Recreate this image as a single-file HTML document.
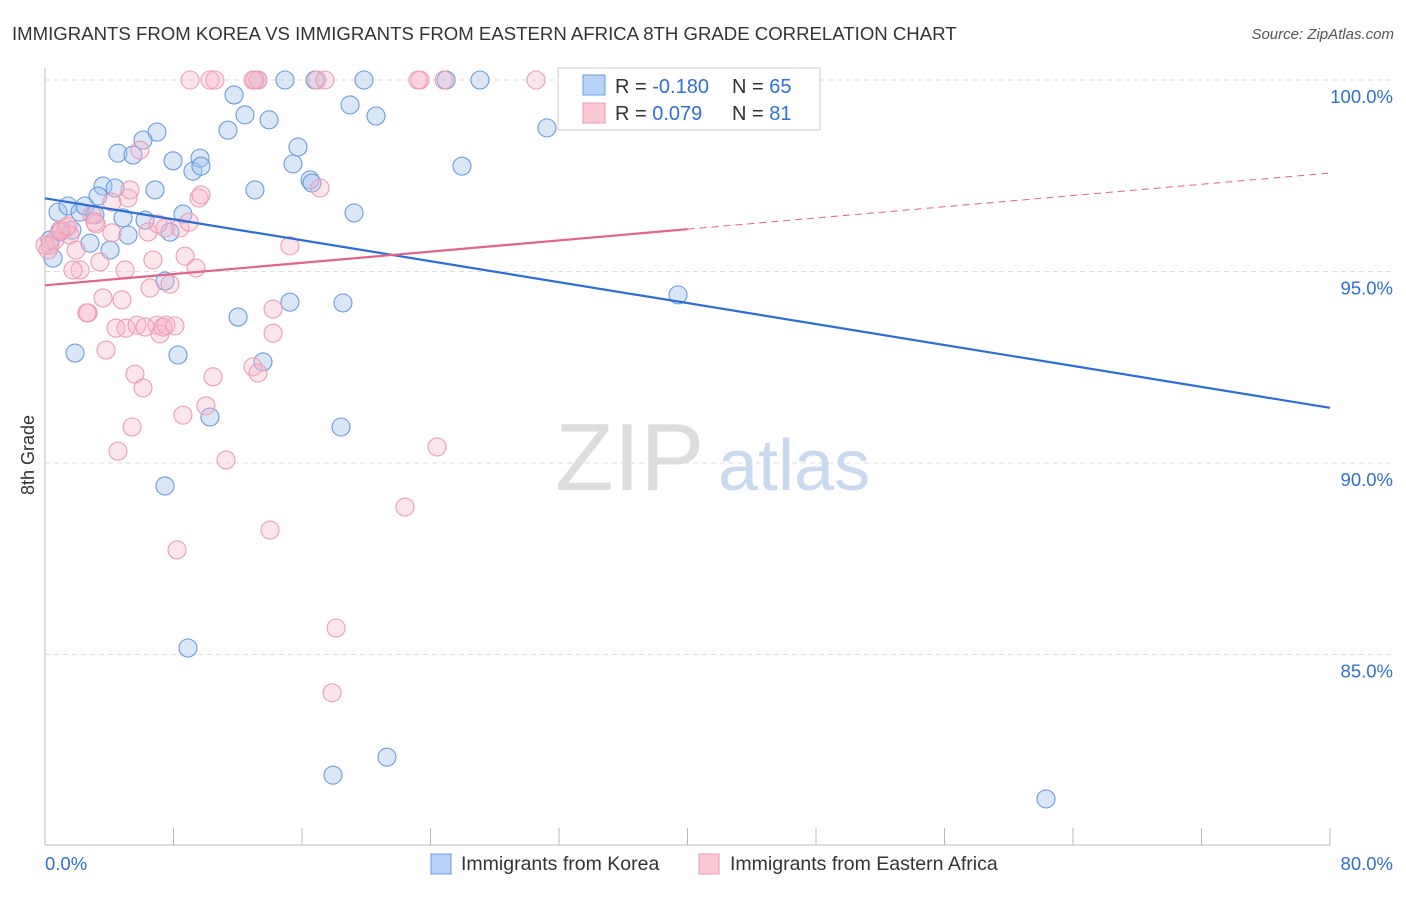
<!DOCTYPE html>
<html><head><meta charset="utf-8"><style>
body{margin:0;background:#fff;font-family:"Liberation Sans",sans-serif}
svg text{font-family:"Liberation Sans",sans-serif}
</style></head><body>
<svg id="chart" width="1406" height="892">
<text x="12" y="40" font-size="18.6" fill="#333">IMMIGRANTS FROM KOREA VS IMMIGRANTS FROM EASTERN AFRICA 8TH GRADE CORRELATION CHART</text>
<text x="1394" y="39" font-size="15" fill="#555" font-style="italic" text-anchor="end">Source: ZipAtlas.com</text>
<text x="34" y="455" font-size="18" fill="#333" transform="rotate(-90 34 455)" text-anchor="middle">8th Grade</text>
<g id="grid"></g>
<text x="555" y="490" font-size="96" fill="#ddd" font-family="Liberation Serif">ZIP</text>
<text x="718" y="490" font-size="72" fill="#c9d9f0">atlas</text>
<g id="pts"></g>
<g id="lines"></g>
<g>
<rect x="558" y="68" width="262" height="62" fill="#fff" stroke="#ccc"/>
<rect x="583" y="75" width="22" height="20" fill="#b8d2f5" stroke="#6a9de0"/>
<rect x="583" y="103" width="22" height="20" fill="#fbc8d6" stroke="#ec9ab2"/>
<text x="615" y="93" font-size="20" fill="#333">R = <tspan fill="#2f6fd8">-0.180</tspan></text>
<text x="732" y="93" font-size="20" fill="#333">N = <tspan fill="#2f6fd8">65</tspan></text>
<text x="615" y="120" font-size="20" fill="#333">R = <tspan fill="#2f6fd8"> 0.079</tspan></text>
<text x="732" y="120" font-size="20" fill="#333">N = <tspan fill="#2f6fd8"> 81</tspan></text>
</g>
<g>
<rect x="431" y="854" width="20" height="20" fill="#b8d2f5" stroke="#6a9de0"/>
<text x="461" y="870" font-size="19.5" fill="#333">Immigrants from Korea</text>
<rect x="699" y="854" width="20" height="20" fill="#fbc8d6" stroke="#ec9ab2"/>
<text x="730" y="870" font-size="19.5" fill="#333">Immigrants from Eastern Africa</text>
</g>
</svg>
<script>
const yTicks=[100,95,90,85];
const yTickLabels=["100.0%","95.0%","90.0%","85.0%"];
const xTicks=[0,8,16,24,32,40,48,56,64,72,80];
const xEndLabels=["0.0%","80.0%"];
const koreaX=[.31,.81,1.43,2.18,2.49,3.11,2.80,1.87,3.61,3.30,4.36,4.05,4.86,4.54,5.48,5.17,6.23,6.85,6.97,6.10,7.47,7.78,7.97,8.28,8.59,9.21,9.65,9.71,7.47,8.90,10.27,11.39,11.77,12.02,12.45,13.07,13.26,13.95,14.94,13.57,15.25,15.44,15.75,16.50,16.62,16.81,18.55,18.43,19.24,18.99,19.86,20.61,17.93,21.29,24.97,27.08,25.96,31.25,34.06,39.35,39.41,62.32,.93,1.68,.50];
const koreaY=[95.82,96.55,96.71,96.55,96.71,96.48,95.74,92.87,97.23,96.97,97.18,95.56,96.40,98.09,98.04,95.95,96.34,97.13,98.64,98.43,94.75,96.03,97.89,92.82,96.50,97.62,97.96,97.75,89.40,85.17,91.20,98.69,99.61,93.81,99.09,97.13,100,98.96,100,92.64,94.20,97.81,98.25,97.39,97.31,100,94.18,90.94,96.53,99.35,100,99.06,81.85,82.32,100,100,97.75,98.75,100,100,94.39,81.23,96.03,96.08,95.35];
const eafX=[9.03,10.27,10.58,12.95,13.26,16.93,17.43,23.35,23.22,24.84,30.57,32.87,.19,.62,1.06,1.31,1.56,1.93,2.18,2.68,2.93,3.18,3.42,3.61,3.80,4.17,4.17,4.42,4.79,4.98,5.04,5.17,5.29,5.42,4.54,5.60,5.73,5.91,6.10,6.41,6.54,6.72,6.97,7.16,7.35,7.53,7.78,8.09,8.41,8.59,8.72,9.40,9.59,9.71,10.02,10.46,11.27,12.95,13.26,14.01,14.20,14.20,15.25,17.12,18.12,17.87,22.41,24.41,8.22,.93,1.43,3.11,0,.31,1.74,2.61,8.97,7.47,7.04,6.23,13.07];
const eafY=[100,100,100,100,100,100,100,100,100,100,100,100,95.56,95.82,96.08,96.14,95.95,95.56,95.04,93.92,96.48,96.24,95.25,94.31,92.95,96.81,96.01,93.52,94.26,95.04,93.52,96.92,97.13,90.94,90.31,92.32,93.60,98.17,91.96,96.03,94.57,95.30,93.60,93.37,93.55,93.60,94.67,93.58,96.14,91.25,95.40,95.09,96.92,97.00,91.49,92.25,90.08,92.51,92.35,88.25,93.39,94.02,95.67,97.18,85.69,84.00,88.85,90.42,87.73,96.08,96.19,96.29,95.69,95.69,95.04,93.92,96.29,96.14,96.24,93.55,100];
const koreaTrend=[96.91,91.44];
const eafTrend=[94.64,97.57];
const eafSolidEnd=40;

const NS="http://www.w3.org/2000/svg";
const xs=v=>45+v/80*1285;
const ys=v=>80+(100-v)*38.3;
function mk(tag,attrs,parent){const e=document.createElementNS(NS,tag);for(const k in attrs)e.setAttribute(k,attrs[k]);parent.appendChild(e);return e;}
const grid=document.getElementById('grid');
yTicks.forEach((t,i)=>{
 const l=mk('line',{x1:45,x2:1392,y1:ys(t),y2:ys(t),stroke:'#ddd','stroke-dasharray':'5,4'},grid);
 
 
 const tx=mk('text',{x:1393,y:ys(t)+23,'font-size':18.5,fill:'#2f6fd8','text-anchor':'end'},grid);
 tx.textContent=yTickLabels[i];
 
 
});
const ax=mk('line',{x1:45,x2:45,y1:68,y2:845,stroke:'#bbb'},grid);


const bx=mk('line',{x1:45,x2:1330,y1:845,y2:845,stroke:'#bbb'},grid);


xTicks.forEach(t=>{
 const l=mk('line',{x1:xs(t),x2:xs(t),y1:828,y2:845,stroke:'#bbb'},grid);
 
 
});
[[0,'start',45],[80,'end',1393]].forEach((p,i)=>{
 const tx=mk('text',{x:p[2],y:870,'font-size':18.5,fill:'#2f6fd8','text-anchor':p[1]},grid);
 tx.textContent=xEndLabels[i];
 
 
});
const pts=document.getElementById('pts');
koreaX.forEach((x,i)=>{
 const c=mk('circle',{cx:xs(x),cy:ys(koreaY[i]),r:9,fill:'rgba(160,195,240,0.4)',stroke:'#6a9be0','stroke-width':1.1},pts);
 
 
});
eafX.forEach((x,i)=>{
 const c=mk('circle',{cx:xs(x),cy:ys(eafY[i]),r:9,fill:'rgba(248,180,200,0.35)',stroke:'#ee9cb5','stroke-width':1.1},pts);
 
 
});
const lines=document.getElementById('lines');
const kl=mk('line',{x1:xs(0),y1:ys(koreaTrend[0]),x2:xs(80),y2:ys(koreaTrend[1]),stroke:'#2a6fd6','stroke-width':2.2},lines);


const mid=eafTrend[0]+(eafTrend[1]-eafTrend[0])*eafSolidEnd/80;
const el=mk('line',{x1:xs(0),y1:ys(eafTrend[0]),x2:xs(eafSolidEnd),y2:ys(mid),stroke:'#e4628e','stroke-width':2.2},lines);


const ed=mk('line',{x1:xs(eafSolidEnd),y1:ys(mid),x2:xs(80),y2:ys(eafTrend[1]),stroke:'#e4628e','stroke-width':1,'stroke-dasharray':'7,5'},lines);


</script>
</body></html>
